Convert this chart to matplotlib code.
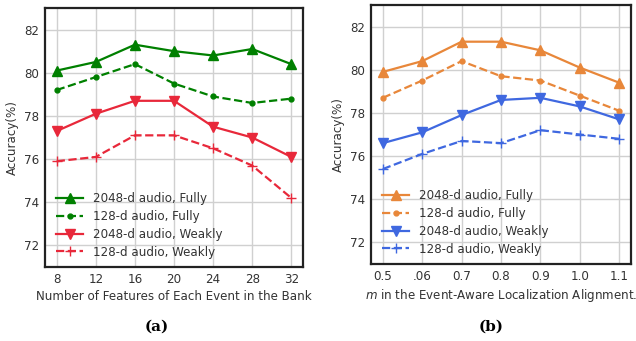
import matplotlib
matplotlib.use("Agg")
import matplotlib.pyplot as plt

# Data
x_a = [8, 12, 16, 20, 24, 28, 32]
a_2048_fully = [80.1, 80.5, 81.3, 81.0, 80.8, 81.1, 80.4]
a_128_fully = [79.2, 79.8, 80.4, 79.5, 78.9, 78.6, 78.8]
a_2048_weakly = [77.3, 78.1, 78.7, 78.7, 77.5, 77.0, 76.1]
a_128_weakly = [75.9, 76.1, 77.1, 77.1, 76.5, 75.7, 74.2]

x_b_labels = ["0.5", ".06", "0.7", "0.8", "0.9", "1.0", "1.1"]
b_2048_fully = [79.9, 80.4, 81.3, 81.3, 80.9, 80.1, 79.4]
b_128_fully = [78.7, 79.5, 80.4, 79.7, 79.5, 78.8, 78.1]
b_2048_weakly = [76.6, 77.1, 77.9, 78.6, 78.7, 78.3, 77.7]
b_128_weakly = [75.4, 76.1, 76.7, 76.6, 77.2, 77.0, 76.8]

legend_labels = ["2048-d audio, Fully", "128-d audio, Fully",
                 "2048-d audio, Weakly", "128-d audio, Weakly"]

plt.rcParams['font.family'] = ['DejaVu Sans']
text_color = '#333333'
fs = 8.6

fig = plt.figure(figsize=(6.36, 3.41), dpi=100)
ax1 = fig.add_axes([45/636, 1 - 267/341, 258/636, 259/341])
ax2 = fig.add_axes([371/636, 1 - 264/341, 260/636, 259/341])

def style(ax):
    ax.set_ylim(71, 83)
    ax.set_yticks([72, 74, 76, 78, 80, 82])
    ax.grid(True, color='#d0d0d0', linewidth=1.0)
    ax.set_axisbelow(True)
    for s in ax.spines.values():
        s.set_color('#222222')
        s.set_linewidth(1.6)
    ax.tick_params(axis='both', labelsize=fs, colors=text_color, length=0, pad=4)
    ax.set_ylabel("Accuracy(%)", fontsize=fs, color=text_color, labelpad=4)

def legend(ax):
    leg = ax.legend(loc='lower left', frameon=False, fontsize=fs, handlelength=2.3,
                    labelspacing=0.4, borderaxespad=0.3, bbox_to_anchor=(0.01, 0.0))
    for t in leg.get_texts():
        t.set_color(text_color)

green = '#008000'
red = '#e8283a'
ax1.plot(x_a, a_2048_fully, color=green, ls='-', marker='^', ms=7.5, lw=1.6, label=legend_labels[0])
ax1.plot(x_a, a_128_fully, color=green, ls='--', marker='.', ms=7, lw=1.6, label=legend_labels[1])
ax1.plot(x_a, a_2048_weakly, color=red, ls='-', marker='v', ms=7.5, lw=1.6, label=legend_labels[2])
ax1.plot(x_a, a_128_weakly, color=red, ls='--', marker='+', ms=7, lw=1.6, label=legend_labels[3])
style(ax1)
ax1.set_xlim(6.8, 33.2)
ax1.set_xticks(x_a)
ax1.set_xlabel("Number of Features of Each Event in the Bank", fontsize=fs, color=text_color, labelpad=3)
legend(ax1)

orange = '#e8873a'
blue = '#3f68e0'
xb = list(range(len(x_b_labels)))
ax2.plot(xb, b_2048_fully, color=orange, ls='-', marker='^', ms=7.5, lw=1.6, label=legend_labels[0])
ax2.plot(xb, b_128_fully, color=orange, ls='--', marker='.', ms=7, lw=1.6, label=legend_labels[1])
ax2.plot(xb, b_2048_weakly, color=blue, ls='-', marker='v', ms=7.5, lw=1.6, label=legend_labels[2])
ax2.plot(xb, b_128_weakly, color=blue, ls='--', marker='+', ms=7, lw=1.6, label=legend_labels[3])
style(ax2)
ax2.set_xlim(-0.3, 6.3)
ax2.set_xticks(xb)
ax2.set_xticklabels(x_b_labels)
ax2.set_xlabel("$m$ in the Event-Aware Localization Alignment.", fontsize=fs, color=text_color, labelpad=3)
legend(ax2)

fig.text(157/636, 1 - 327/341, "(a)", ha='center', va='center', fontsize=11,
         fontweight='bold', family='DejaVu Serif')
fig.text(491/636, 1 - 327/341, "(b)", ha='center', va='center', fontsize=11,
         fontweight='bold', family='DejaVu Serif')

fig.savefig("out.png", dpi=100)
